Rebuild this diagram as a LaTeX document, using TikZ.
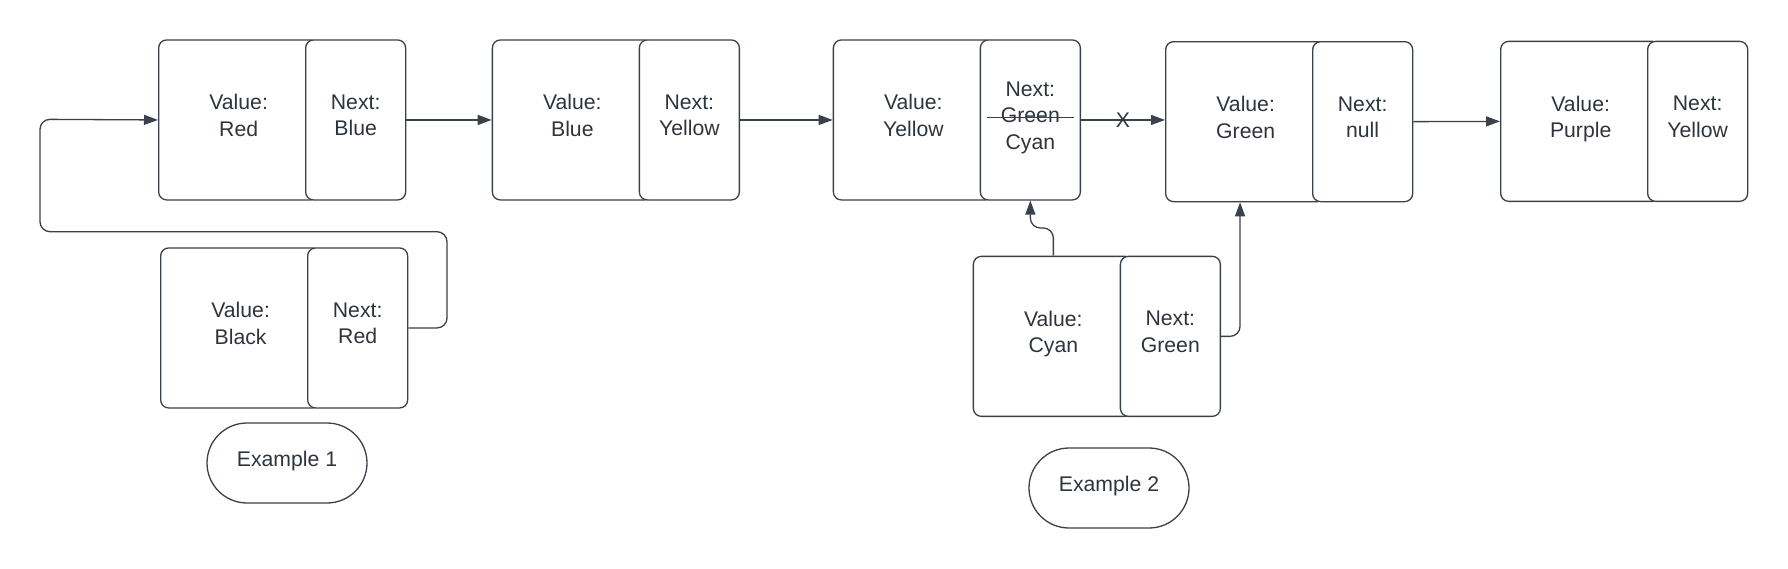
\documentclass[tikz,border=0pt]{standalone}
\usepackage{fontspec}
\setmainfont{Liberation Sans}
\usetikzlibrary{arrows.meta,positioning}

\begin{document}
\begin{tikzpicture}[x=0.5pt,y=-0.5pt]

	\def\lw{0.65pt}
	\def\gap{147}
	\def\rad{4pt}

	% Colours
	\definecolor{linecolor}{HTML}{3A414A}
	\definecolor{textcolor}{HTML}{2E343D}

	% Styles
	\tikzstyle{valbox}=[draw=linecolor, line width=\lw, text=textcolor, rounded corners=\rad,
		minimum width=80pt, minimum height=80pt, inner sep=0pt, align=center,
		font=\fontsize{10.6}{13.3}\selectfont, anchor=north west,
		execute at end node={\rule[-4.6pt]{0pt}{4.6pt}}]
	\tikzstyle{nextbox}=[valbox, fill=white, minimum width=50pt]
	\tikzstyle{tag}=[valbox, minimum height=40pt, rounded corners=20pt, anchor=center,
		execute at end node={}]
	\tikzstyle{link}=[draw=linecolor, line width=\lw, ->, >={Triangle[length=7pt,width=5pt]}, rounded corners=5pt]

	\useasboundingbox (0,0) rectangle (1788,568);

	% Example 1
	\node[valbox] (redv) at (158,39.3) {Value:\\Red};
	\node[nextbox] (redn) at (158+\gap,39.3) {Next:\\Blue};
	\node[valbox] (blackv) at (160,247.3) {Value:\\Black};
	\node[nextbox] (blackn) at (160+\gap,247.3) {Next:\\Red};
	\node[tag] (ex1) at (287,463) {Example 1};

	% Main list
	\node[valbox] (bluev) at (491.7,39.3) {Value:\\Blue};
	\node[nextbox] (bluen) at (491.7+\gap,39.3) {Next:\\Yellow};
	\node[valbox] (yellv) at (832.7,39.3) {Value:\\Yellow};
	\node[nextbox] (yelln) at (832.7+\gap,39.3) {Next:\\Green\\Cyan};
	\node[valbox] (greenv) at (1165,41) {Value:\\Green};
	\node[nextbox] (greenn) at (1165+\gap,41) {Next:\\null};
	\node[valbox] (purpv) at (1500,40.7) {Value:\\Purple};
	\node[nextbox] (purpn) at (1500+\gap,40.7) {Next:\\Yellow};

	% Example 2
	\node[valbox] (cyanv) at (972.7,255.7) {Value:\\Cyan};
	\node[nextbox] (cyann) at (972.7+\gap,255.7) {Next:\\Green};
	\node[tag] (ex2) at (1109,488) {Example 2};

	% Crossed out pointer
	\draw[linecolor, line width=\lw] (yelln.center) ++(-43.5,-2.3) -- ++(86.7,0);

	% Links
	\draw[link] (redn.east) -- (bluev.west);
	\draw[link] (bluen.east) -- (yellv.west);
	\draw[link] (yelln.east) -- node[text=textcolor, font=\fontsize{10.6}{13.3}\selectfont]{X} (yelln.east -| greenv.west);
	\draw[link] (greenn.east) -- (purpv.west);

	\coordinate (loopr) at (447,231.7);
	\coordinate (loopl) at (40,119.3);
	\draw[link] (blackn.east) -| (loopr) -| (loopl) -- (redv.west);

	\draw[link] (cyanv.north) -- ++(0,-27.7) -| (yelln.south);
	\draw[link] (cyann.east) -| ([xshift=-2.8pt]greenv.south);

\end{tikzpicture}
\end{document}
